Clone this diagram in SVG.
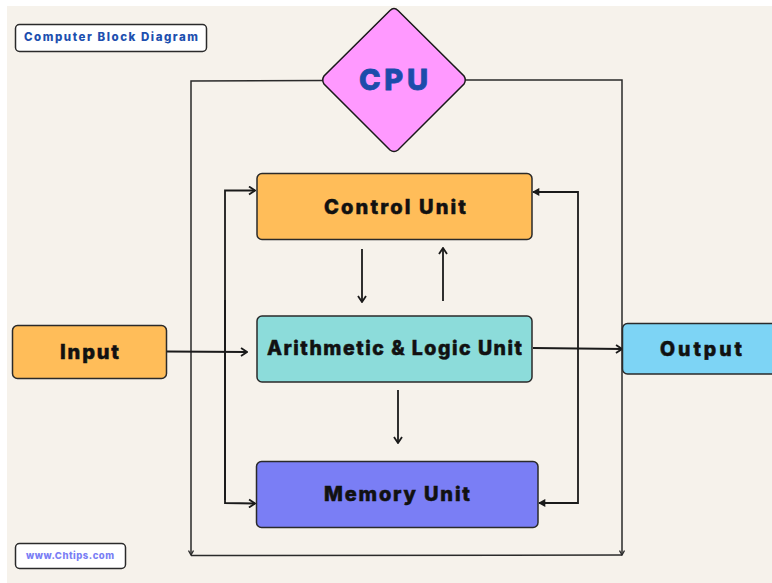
<svg xmlns="http://www.w3.org/2000/svg" width="772" height="583" viewBox="0 0 772 583">
  <defs>
    <style>
      .box { stroke: #2a2a2a; stroke-width: 1.5; }
      .lbl { font-family: Inter, "Open Sans", "Liberation Sans", sans-serif; font-weight: 800; fill: #111; stroke: #111; stroke-width: 0.5; text-anchor: middle; }
      .tag { font-family: Inter, "Open Sans", "Liberation Sans", sans-serif; font-weight: 800; text-anchor: middle; }
      .wire { fill: none; stroke: #1a1a1a; stroke-width: 1.8; }
      .thin { fill: none; stroke: #2a2a2a; stroke-width: 1.5; }
    </style>
    <marker id="open" viewBox="0 0 8 10" refX="7" refY="5" markerWidth="8" markerHeight="10" markerUnits="userSpaceOnUse" orient="auto">
      <path d="M1,1 L7,5 L1,9" fill="none" stroke="#1a1a1a" stroke-width="1.8"/>
    </marker>
    <marker id="solid" viewBox="0 0 8 10" refX="7" refY="5" markerWidth="8" markerHeight="9" markerUnits="userSpaceOnUse" orient="auto">
      <path d="M0,0.5 L8,5 L0,9.5 Z" fill="#1a1a1a"/>
    </marker>
    <marker id="small" viewBox="0 0 6 6" refX="5" refY="3" markerWidth="6" markerHeight="6" markerUnits="userSpaceOnUse" orient="auto">
      <path d="M0.5,0.5 L5,3 L0.5,5.5" fill="none" stroke="#2a2a2a" stroke-width="1.3"/>
    </marker>
  </defs>

  <!-- page -->
  <rect x="0" y="0" width="772" height="583" fill="#ffffff"/>
  <rect x="7" y="6" width="765" height="577" fill="#f6f2eb"/>

  <!-- connectors -->
  <g id="connectors">
    <!-- outer loop from the CPU down both sides and joined along the bottom -->
    <path class="thin" d="M323,80.5 L191,81 L191,555" marker-end="url(#small)"/>
    <path class="thin" d="M466,80 L622,80 L622,555" marker-end="url(#small)"/>
    <path class="thin" d="M191,555.5 L622,555"/>
    <!-- left inner bus -->
    <path class="wire" d="M225,500 L225,190.5 L255,190.5" marker-end="url(#open)"/>
    <path class="wire" d="M225,300 L225,503 L255,503.5" marker-end="url(#open)"/>
    <!-- right inner bus -->
    <path class="wire" d="M578,300 L578,192 L533,192" marker-end="url(#solid)"/>
    <path class="wire" d="M578,300 L578,503 L539,503" marker-end="url(#solid)"/>
    <!-- Input to ALU -->
    <path class="wire" d="M167,351.5 L247,352" marker-end="url(#open)"/>
    <!-- ALU to Output -->
    <path class="wire" d="M533,348 L622,349" marker-end="url(#open)"/>
    <!-- Control <-> ALU -->
    <path class="wire" d="M362,249 L362,302" marker-end="url(#open)"/>
    <path class="wire" d="M443,301 L443,248" marker-end="url(#open)"/>
    <!-- ALU to Memory -->
    <path class="wire" d="M398,390 L398,443" marker-end="url(#open)"/>
  </g>

  <!-- title tag -->
  <g id="title">
    <rect x="15.5" y="24.5" width="191" height="27" rx="4" fill="#ffffff" stroke="#2a2a2a" stroke-width="1.5"/>
    <text class="tag" x="111" y="40.5" font-size="11.5" fill="#1d4faf" textLength="174" lengthAdjust="spacing">Computer Block Diagram</text>
  </g>

  <!-- CPU -->
  <g id="cpu">
    <path d="M394,8.5 Q396,8.5 398,10.5 L464,76 Q466.5,80 464,84 L398,150 Q394,153 390,150 L324,84 Q321.5,80 324,76 L390,10.5 Q392,8.5 394,8.5 Z" fill="#ff99ff" stroke="#1a1a1a" stroke-width="1.5"/>
    <text class="tag" x="393.5" y="89.5" font-size="29" fill="#1b4cab" stroke="#1b4cab" stroke-width="0.8" textLength="69" lengthAdjust="spacing">CPU</text>
  </g>

  <!-- Control Unit -->
  <g id="control-unit">
    <rect class="box" x="257" y="173.5" width="275" height="66" rx="5" fill="#ffbd59"/>
    <text class="lbl" x="395" y="213.5" font-size="20" textLength="142" lengthAdjust="spacing">Control Unit</text>
  </g>

  <!-- Arithmetic & Logic Unit -->
  <g id="alu">
    <rect class="box" x="257" y="316" width="275" height="66" rx="5" fill="#8cdcda"/>
    <text class="lbl" x="394.5" y="355" font-size="19.5" textLength="255" lengthAdjust="spacing">Arithmetic &amp; Logic Unit</text>
  </g>

  <!-- Memory Unit -->
  <g id="memory-unit">
    <rect class="box" x="256.5" y="461.5" width="281.5" height="66" rx="5" fill="#7a7ef5"/>
    <text class="lbl" x="397" y="500.5" font-size="20" textLength="146" lengthAdjust="spacing">Memory Unit</text>
  </g>

  <!-- Input -->
  <g id="input">
    <rect class="box" x="12.5" y="325.5" width="154" height="53" rx="5" fill="#ffbd59"/>
    <text class="lbl" x="89.5" y="359" font-size="20" textLength="59" lengthAdjust="spacing">Input</text>
  </g>

  <!-- Output -->
  <g id="output">
    <rect class="box" x="622.5" y="323.5" width="156" height="50.5" rx="5" fill="#7dd4f5"/>
    <text class="lbl" x="701" y="355.5" font-size="19.5" textLength="82" lengthAdjust="spacing">Output</text>
  </g>

  <!-- footer tag -->
  <g id="footer">
    <rect x="15.5" y="543.5" width="110" height="25" rx="4" fill="#ffffff" stroke="#2a2a2a" stroke-width="1.5"/>
    <text class="tag" x="70" y="558.5" font-size="9.5" fill="#7a7ef5" textLength="88" lengthAdjust="spacing">www.Chtips.com</text>
  </g>
</svg>
